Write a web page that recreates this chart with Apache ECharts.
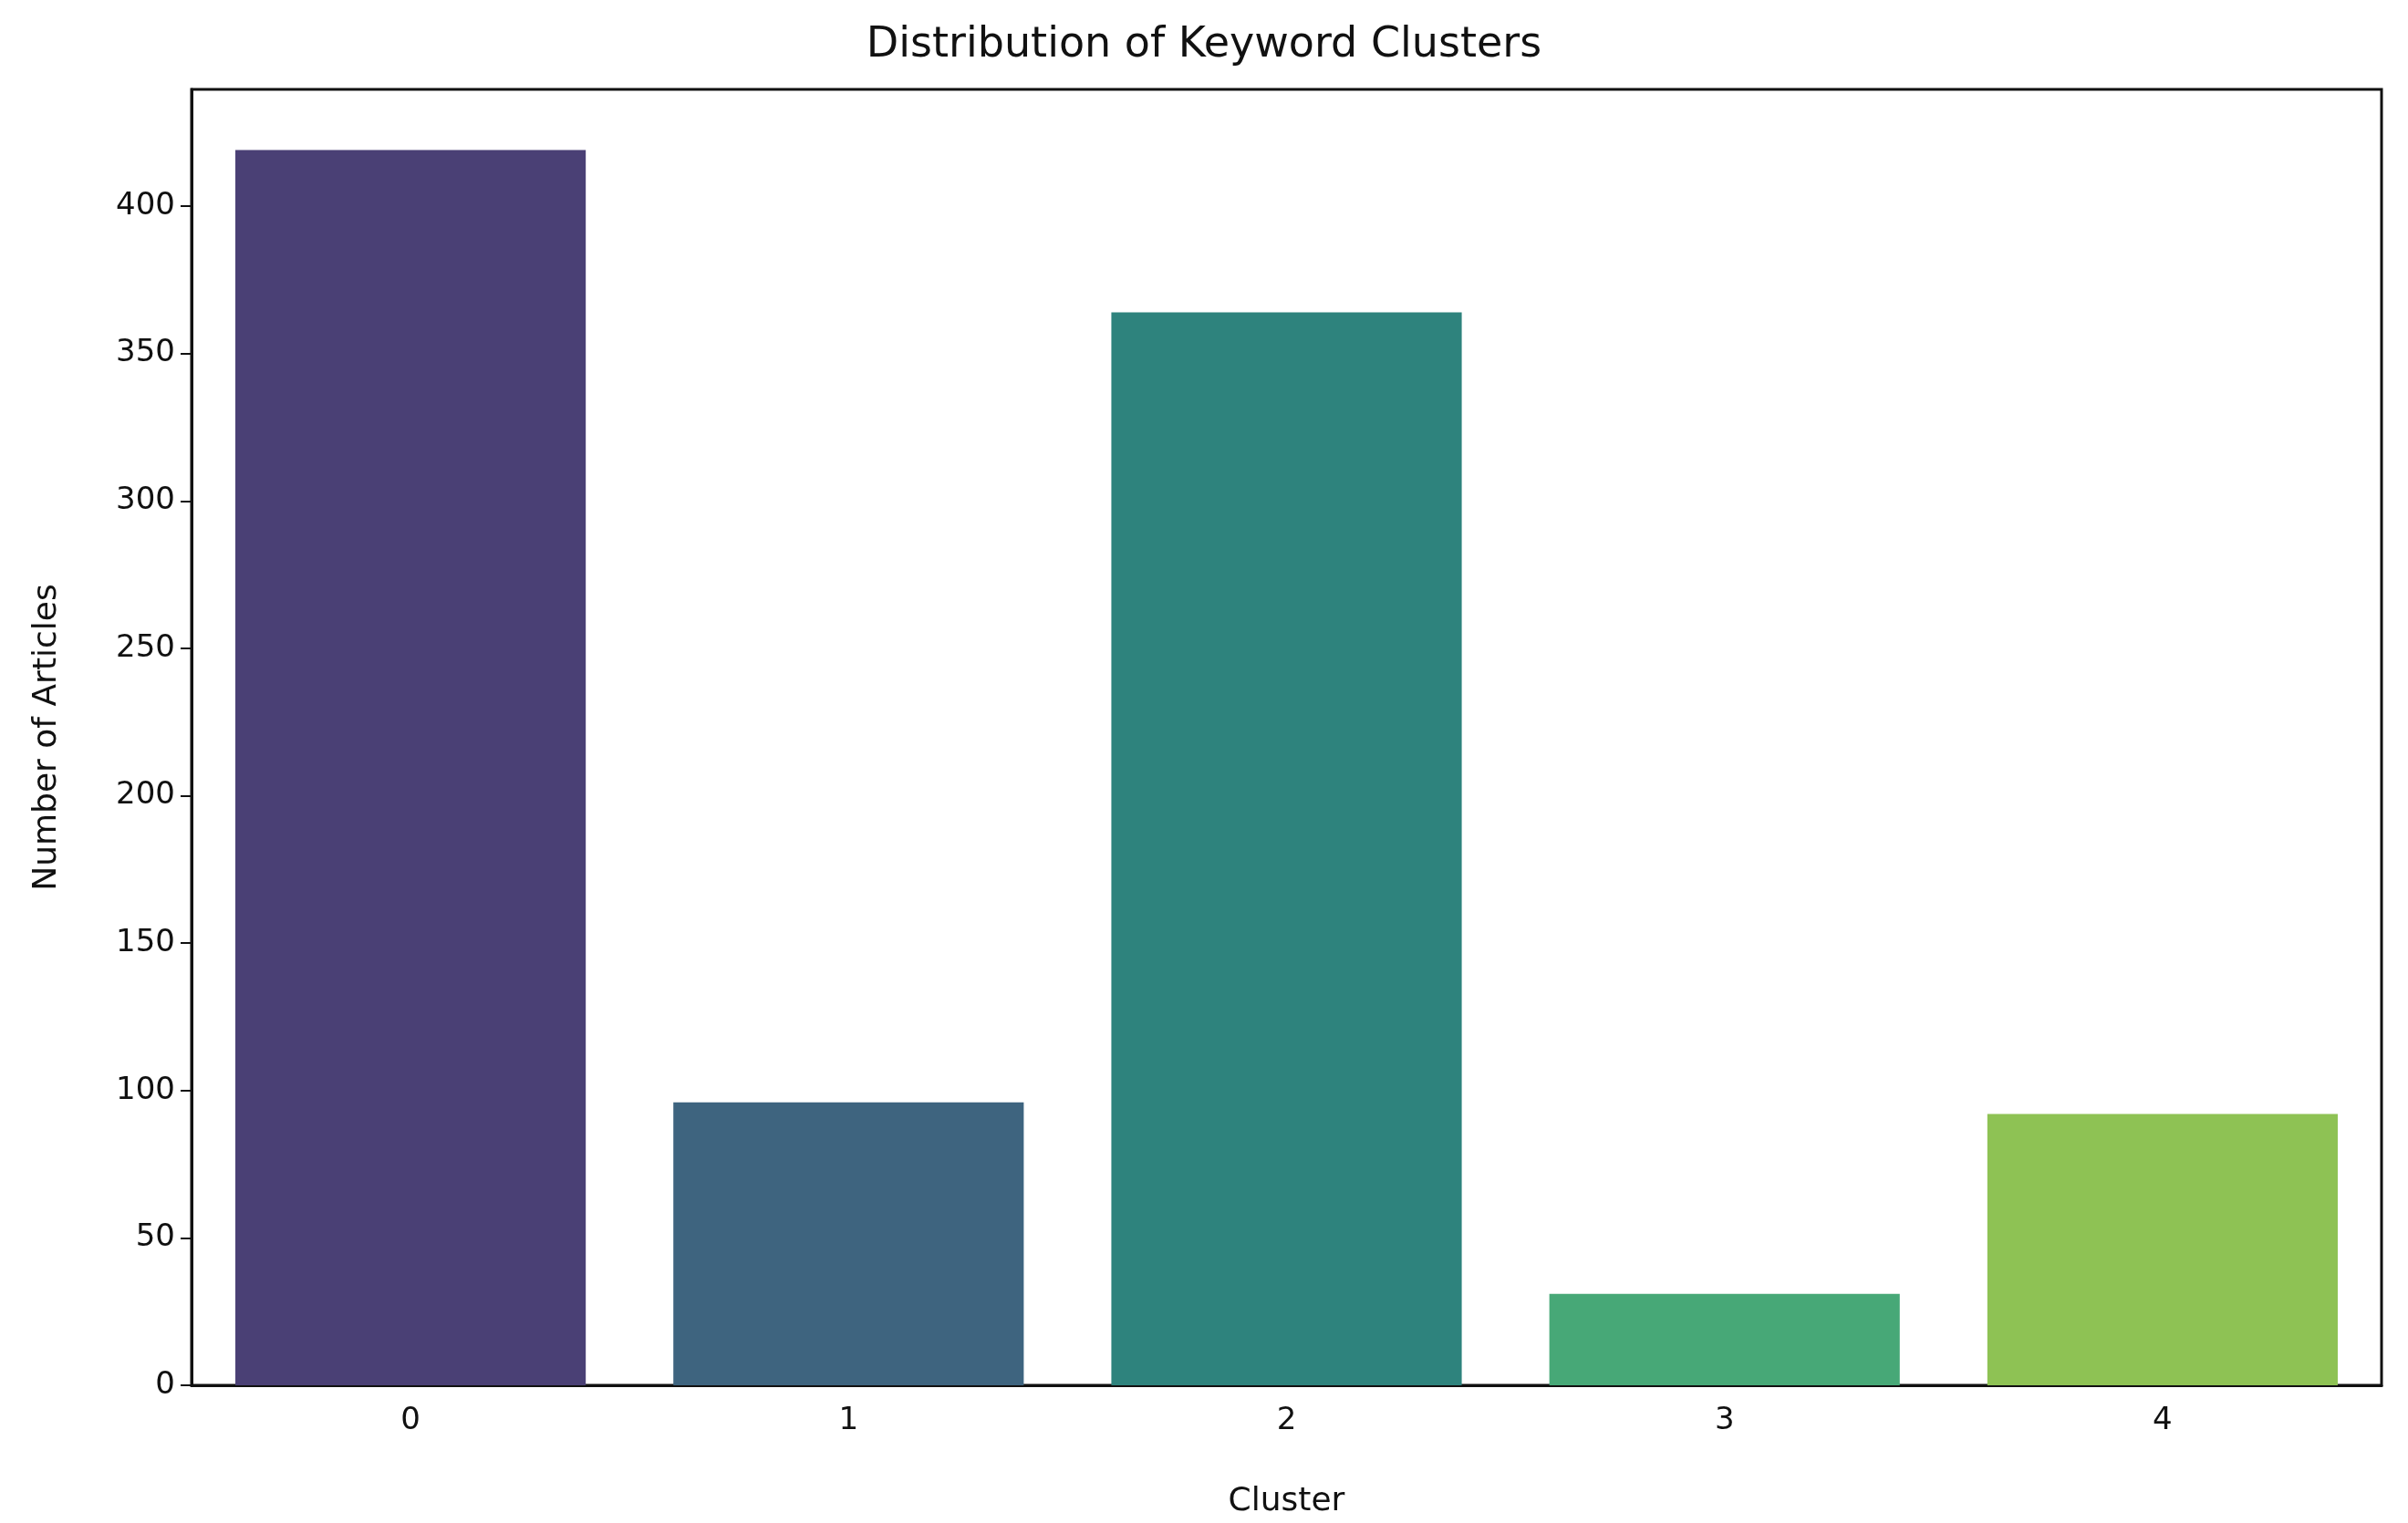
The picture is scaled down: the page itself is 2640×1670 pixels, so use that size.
<!DOCTYPE html>
<html><head><meta charset="utf-8">
<script src="https://cdn.jsdelivr.net/npm/echarts@6/dist/echarts.min.js"></script>
<style>html,body{margin:0;padding:0;background:#fff}#c{width:2640px;height:1670px}</style>
</head><body><div id="c"></div>
<script>
const categories = ['0','1','2','3','4'];
const values = [419, 96, 364, 31, 92];
const colors = ['#4a4075','#3e647f','#2e837d','#47a877','#8ec254'];
const chart = echarts.init(document.getElementById('c'));
const F = 'DejaVu Sans';
chart.setOption({
  animation:false,
  title:{text:'Distribution of Keyword Clusters',left:'center',top:22,textStyle:{fontFamily:F,fontSize:46,fontWeight:'normal',color:'#111'}},
  grid:{left:210,right:29,top:98,bottom:142,show:true,borderColor:'#111',borderWidth:3,backgroundColor:'transparent'},
  xAxis:{type:'category',data:categories,name:'Cluster',nameLocation:'middle',nameGap:110,
    nameTextStyle:{fontFamily:F,fontSize:36,color:'#111'},
    axisLine:{lineStyle:{color:'#111',width:3}},axisTick:{alignWithLabel:true,length:12,lineStyle:{color:'#111',width:2}},
    axisLabel:{fontFamily:F,fontSize:34,color:'#111',margin:22}},
  yAxis:{type:'value',min:0,max:439.6,interval:50,name:'Number of Articles',nameLocation:'middle',nameGap:140,
    nameTextStyle:{fontFamily:F,fontSize:36,color:'#111'},
    axisLine:{show:true,lineStyle:{color:'#111',width:3}},axisTick:{show:true,length:12,lineStyle:{color:'#111',width:2}},
    splitLine:{show:false},
    axisLabel:{fontFamily:F,fontSize:34,color:'#111',margin:18,showMaxLabel:false}},
  series:[{type:'bar',barWidth:'80%',data:values.map((v,i)=>({value:v,itemStyle:{color:colors[i]}}))}]
});
</script></body></html>
